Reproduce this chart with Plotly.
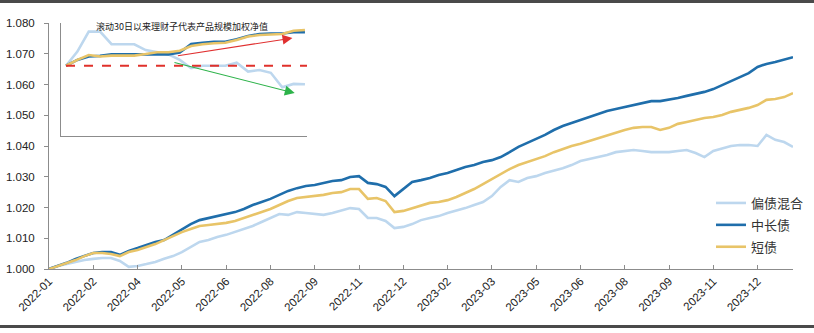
import plotly.graph_objects as go

# ---------------- data ----------------
tick_labels = ["2022-01", "2022-02", "2022-04", "2022-05", "2022-06", "2022-08", "2022-09",
               "2022-11", "2022-12", "2023-02", "2023-03", "2023-05", "2023-06", "2023-08",
               "2023-09", "2023-11", "2023-12"]
points_per_tick = 5

series_names = ["偏债混合", "中长债", "短债"]

mixed = [1.0000, 1.0010, 1.0016, 1.0023, 1.0029, 1.0033, 1.0036, 1.0036, 1.0026, 1.0007,
         1.0010, 1.0016, 1.0023, 1.0033, 1.0042, 1.0055, 1.0072, 1.0088, 1.0094, 1.0104,
         1.0111, 1.0120, 1.0130, 1.0140, 1.0153, 1.0166, 1.0179, 1.0176, 1.0185, 1.0182,
         1.0179, 1.0176, 1.0182, 1.0189, 1.0198, 1.0195, 1.0166, 1.0166, 1.0156, 1.0133,
         1.0137, 1.0146, 1.0159, 1.0166, 1.0172, 1.0182, 1.0189, 1.0198, 1.0208, 1.0218,
         1.0237, 1.0267, 1.0289, 1.0283, 1.0296, 1.0302, 1.0312, 1.0319, 1.0328, 1.0338,
         1.0351, 1.0358, 1.0364, 1.0371, 1.0380, 1.0384, 1.0387, 1.0384, 1.0380, 1.0380,
         1.0380, 1.0384, 1.0387, 1.0377, 1.0364, 1.0384, 1.0393, 1.0400, 1.0403, 1.0403,
         1.0400, 1.0436, 1.0420, 1.0413, 1.0397]

mid_long = [1.0000, 1.0010, 1.0020, 1.0033, 1.0042, 1.0052, 1.0055, 1.0055, 1.0046, 1.0059,
            1.0068, 1.0078, 1.0088, 1.0094, 1.0111, 1.0130, 1.0146, 1.0159, 1.0166, 1.0172,
            1.0179, 1.0185, 1.0195, 1.0208, 1.0218, 1.0228, 1.0241, 1.0254, 1.0263, 1.0270,
            1.0273, 1.0280, 1.0286, 1.0289, 1.0299, 1.0302, 1.0280, 1.0276, 1.0267, 1.0237,
            1.0260, 1.0283, 1.0289, 1.0296, 1.0306, 1.0312, 1.0322, 1.0332, 1.0338, 1.0348,
            1.0354, 1.0364, 1.0380, 1.0397, 1.0410, 1.0423, 1.0436, 1.0452, 1.0465, 1.0475,
            1.0485, 1.0494, 1.0504, 1.0514, 1.0520, 1.0527, 1.0533, 1.0540, 1.0546, 1.0546,
            1.0550, 1.0556, 1.0563, 1.0569, 1.0576, 1.0585, 1.0598, 1.0611, 1.0624, 1.0637,
            1.0657, 1.0667, 1.0673, 1.0680, 1.0689]

short = [1.0000, 1.0010, 1.0020, 1.0029, 1.0042, 1.0052, 1.0052, 1.0049, 1.0042, 1.0055,
         1.0062, 1.0072, 1.0081, 1.0094, 1.0107, 1.0120, 1.0130, 1.0140, 1.0143, 1.0146,
         1.0150, 1.0156, 1.0166, 1.0176, 1.0185, 1.0195, 1.0208, 1.0221, 1.0231, 1.0234,
         1.0237, 1.0241, 1.0247, 1.0250, 1.0260, 1.0260, 1.0228, 1.0231, 1.0221, 1.0185,
         1.0189, 1.0198, 1.0208, 1.0215, 1.0218, 1.0224, 1.0234, 1.0247, 1.0260, 1.0276,
         1.0293, 1.0309, 1.0325, 1.0338, 1.0348, 1.0358, 1.0367, 1.0380, 1.0390, 1.0400,
         1.0407, 1.0416, 1.0426, 1.0433, 1.0442, 1.0452, 1.0459, 1.0462, 1.0462, 1.0452,
         1.0459, 1.0472, 1.0478, 1.0485, 1.0491, 1.0494, 1.0501, 1.0511, 1.0517, 1.0524,
         1.0533, 1.0550, 1.0553, 1.0559, 1.0572]

# inset: rolling 30 days
inset_title = "滚动30日以来理财子代表产品规模加权净值"
inset_mixed = [1.0661, 1.0707, 1.0772, 1.0772, 1.0731, 1.0731, 1.0731, 1.0712, 1.0704, 1.0698,
               1.0680, 1.0653, 1.0661, 1.0661, 1.0661, 1.0671, 1.0642, 1.0647, 1.0638, 1.0591,
               1.0602, 1.0601]
inset_mid_long = [1.0661, 1.0680, 1.0691, 1.0693, 1.0698, 1.0698, 1.0698, 1.0698, 1.0698, 1.0698,
                  1.0704, 1.0732, 1.0736, 1.0739, 1.0739, 1.0747, 1.0758, 1.0764, 1.0766, 1.0766,
                  1.0770, 1.0770]
inset_short = [1.0661, 1.0680, 1.0696, 1.0691, 1.0694, 1.0694, 1.0694, 1.0699, 1.0705, 1.0705,
               1.0710, 1.0725, 1.0731, 1.0734, 1.0736, 1.0745, 1.0756, 1.0761, 1.0763, 1.0764,
               1.0775, 1.0777]
# trend arrows in inset (tail -> head, in inset day index / value units)
up_arrow = dict(x0=9.7, y0=1.0693, x1=19.9, y1=1.0751)
down_arrow = dict(x0=9.4, y0=1.0673, x1=20.1, y1=1.0572)

colors = ["#bdd7ee", "#1f6eab", "#e8c468"]

# ---------------- figure ----------------
W, H = 814, 333
x_main = list(range(len(mixed)))
x_inset = list(range(len(inset_mixed)))
tickvals = [i * points_per_tick for i in range(len(tick_labels))]

fig = go.Figure()
for name, ys, c in zip(series_names, [mixed, mid_long, short], colors):
    fig.add_trace(go.Scatter(x=x_main, y=ys, mode="lines", name=name, legendgroup=name,
                             line=dict(color=c, width=2.6)))
for name, ys, c in zip(series_names, [inset_mixed, inset_mid_long, inset_short], colors):
    fig.add_trace(go.Scatter(x=x_inset, y=ys, mode="lines", name=name, showlegend=False,
                             xaxis="x2", yaxis="y2", line=dict(color=c, width=2.6)))

axis_color = "#8c8c8c"
num_font = dict(family="Liberation Sans, Arial", size=11.5, color="#222222")
inset_xrange = [-0.44, 21.18]

fig.update_layout(
    width=W, height=H, autosize=False,
    margin=dict(l=0, r=0, t=0, b=0, pad=0, autoexpand=False),
    paper_bgcolor="white", plot_bgcolor="white",
    xaxis=dict(domain=[49 / W, 793 / W], anchor="y",
               range=[0, len(mixed) - 1], tickvals=tickvals, ticktext=tick_labels,
               tickangle=-45, ticks="inside", ticklen=4, tickcolor=axis_color,
               showline=True, linecolor=axis_color, linewidth=1, showgrid=False,
               zeroline=False, tickfont=num_font, automargin=False),
    yaxis=dict(domain=[(H - 269) / H, (H - 23) / H], anchor="x",
               range=[1.0, 1.08], tickvals=[1.0 + 0.01 * k for k in range(9)],
               tickformat=".3f", ticks="outside", ticklen=4, tickcolor=axis_color,
               showline=True, linecolor=axis_color, linewidth=1, showgrid=False,
               zeroline=False, tickfont=num_font, ticklabelstandoff=7, automargin=False),
    xaxis2=dict(domain=[61 / W, 307 / W], anchor="y2", range=inset_xrange,
                showline=True, linecolor=axis_color, showticklabels=False, ticks="",
                showgrid=False, zeroline=False),
    yaxis2=dict(domain=[(H - 136) / H, (H - 23) / H], anchor="x2", range=[1.04325, 1.080],
                showline=True, linecolor=axis_color, showticklabels=False, ticks="",
                showgrid=False, zeroline=False),
    legend=dict(x=711 / W, y=(H - 188) / H, xanchor="left", yanchor="top",
                bgcolor="rgba(0,0,0,0)",
                font=dict(family="Noto Sans CJK SC", size=13, color="#333333"),
                tracegroupgap=2, itemwidth=30),
    showlegend=True,
)

# red dashed baseline in inset
fig.add_shape(type="line", xref="x2", yref="y2", x0=x_inset[0], x1=inset_xrange[1],
              y0=inset_short[0], y1=inset_short[0],
              line=dict(color="#e0312b", width=2, dash="dash"))

for arr, col in [(up_arrow, "#e03030"), (down_arrow, "#2db34a")]:
    fig.add_annotation(xref="x2", yref="y2", axref="x2", ayref="y2",
                       x=arr["x1"], y=arr["y1"], ax=arr["x0"], ay=arr["y0"],
                       text="", showarrow=True, arrowhead=2, arrowsize=1.8,
                       arrowwidth=1.1, arrowcolor=col)

fig.add_annotation(xref="paper", yref="paper", x=182 / W, y=(H - 27) / H, text=inset_title,
                   xanchor="center", yanchor="middle", showarrow=False,
                   font=dict(family="Noto Sans CJK SC", size=9, color="#222222"))

# frame lines of the picture, drawn as thin filled annotation boxes
for top_px in [0, 325]:
    fig.add_annotation(xref="paper", yref="paper", x=0, y=(H - top_px) / H,
                       xanchor="left", yanchor="top", text=" ", showarrow=False,
                       width=W, height=3, bgcolor="#4a4a4a", borderpad=0, borderwidth=0,
                       font=dict(size=1, color="#4a4a4a"))

fig.write_html("out.html")
